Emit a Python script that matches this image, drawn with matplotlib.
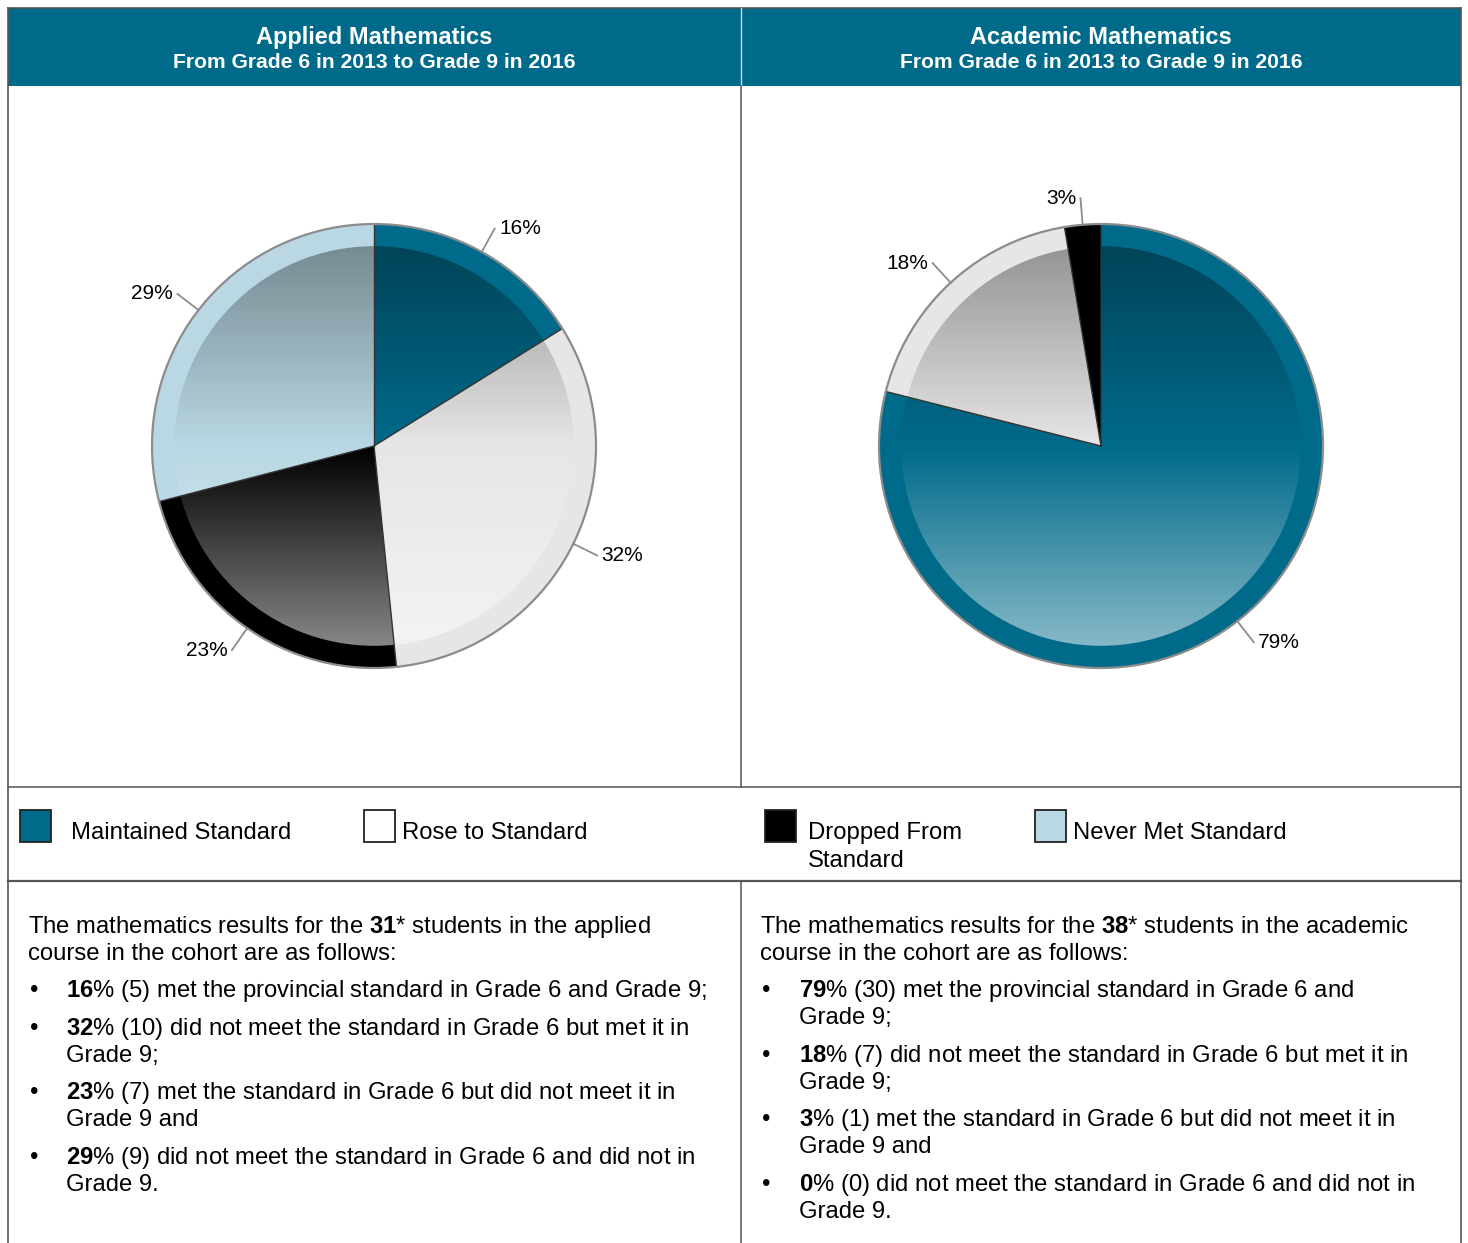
import numpy as np
import matplotlib
matplotlib.use('Agg')
import matplotlib.pyplot as plt
from matplotlib.patches import Rectangle, Circle

plt.rcParams['font.family'] = 'Liberation Sans'
plt.rcParams['mathtext.fontset'] = 'custom'
plt.rcParams['mathtext.rm'] = 'Liberation Sans'
plt.rcParams['mathtext.bf'] = 'Liberation Sans:bold'

# data
categories = ['Maintained Standard', 'Rose to Standard', 'Dropped From\nStandard', 'Never Met Standard']
slice_colors = ['#006a8a', '#e6e6e6', '#000000', '#b9d8e3']
applied_counts = [5, 10, 7, 9]
academic_counts = [30, 7, 1, 0]
applied_total = 31
academic_total = 38
titles = ['Applied Mathematics', 'Academic Mathematics']
subtitle = 'From Grade 6 in 2013 to Grade 9 in 2016'
course_names = ['applied', 'academic']
applied_desc = [['met the provincial standard in Grade 6 and Grade 9;'],
                ['did not meet the standard in Grade 6 but met it in', 'Grade 9;'],
                ['met the standard in Grade 6 but did not meet it in', 'Grade 9 and'],
                ['did not meet the standard in Grade 6 and did not in', 'Grade 9.']]
academic_desc = [['met the provincial standard in Grade 6 and', 'Grade 9;'],
                 ['did not meet the standard in Grade 6 but met it in', 'Grade 9;'],
                 ['met the standard in Grade 6 but did not meet it in', 'Grade 9 and'],
                 ['did not meet the standard in Grade 6 and did not in', 'Grade 9.']]

W, H = 1468, 1243
teal = '#006a8a'
line_c = '#555555'
fig = plt.figure(figsize=(W / 100, H / 100), dpi=100, facecolor='white')

bg = fig.add_axes([0, 0, 1, 1])
bg.set_xlim(0, W)
bg.set_ylim(H, 0)
bg.axis('off')

# table frame
mid_x = 741
bg.add_patch(Rectangle((8, 8), mid_x - 8, 78, color=teal, lw=0))
bg.add_patch(Rectangle((mid_x, 8), 1461 - mid_x, 78, color=teal, lw=0))
bg.plot([8, 1461], [8, 8], color=line_c, lw=1.2)
bg.plot([8, 8], [8, H], color=line_c, lw=1.2)
bg.plot([1461, 1461], [8, H], color=line_c, lw=1.2)
bg.plot([mid_x, mid_x], [8, 86], color='#d0d8dc', lw=1)
bg.plot([mid_x, mid_x], [86, 787], color=line_c, lw=1.1)
bg.plot([mid_x, mid_x], [881, H], color=line_c, lw=1.1)
bg.plot([8, 1461], [787, 787], color=line_c, lw=1.1)
bg.plot([8, 1461], [881, 881], color=line_c, lw=1.6)

# headers
for cx, t in zip([374.5, 1101], titles):
    bg.text(cx, 37, t, color='white', fontsize=17, fontweight='bold', ha='center', va='center')
    bg.text(cx, 62, subtitle, color='white', fontsize=15.2, fontweight='bold', ha='center', va='center')

# pies
R = 222
span = 1.3


def draw_pie(cx, cy, counts, total):
    side = 2 * span * R
    ax = fig.add_axes([(cx - side / 2) / W, (H - cy - side / 2) / H, side / W, side / H])
    wedges, _ = ax.pie(counts, startangle=90, counterclock=False, colors=slice_colors,
                       radius=1, wedgeprops=dict(linewidth=0))
    # vertical shading over inner part of the pie
    n = 256
    t = np.linspace(1, -1, n)
    img = np.zeros((n, 2, 4))
    up = t > 0
    img[up, :, 3] = (0.36 * t[up])[:, None]
    img[~up, :, :3] = 1.0
    img[~up, :, 3] = (0.53 * -t[~up])[:, None]
    im = ax.imshow(img, extent=(-0.9, 0.9, -0.9, 0.9), interpolation='bilinear', zorder=3)
    im.set_clip_path(Circle((0, 0), 0.9, transform=ax.transData))
    # slice borders
    for w, c in zip(wedges, counts):
        if c == 0:
            continue
        a = np.deg2rad(w.theta1)
        ax.plot([0, np.cos(a)], [0, np.sin(a)], color='#333333', lw=1, zorder=4)
    ax.add_patch(Circle((0, 0), 1, fill=False, ec='#8c8c8c', lw=1.6, zorder=5))
    # labels with leader lines
    for w, c in zip(wedges, counts):
        if c == 0:
            continue
        a = np.deg2rad((w.theta1 + w.theta2) / 2)
        ca, sa = np.cos(a), np.sin(a)
        ax.plot([ca, 1.12 * ca], [sa, 1.12 * sa], color='#8c8c8c', lw=1.3, zorder=5)
        off = 0.02 if ca >= 0 else -0.02
        ax.text(1.12 * ca + off, 1.12 * sa, f'{round(100 * c / total)}%', fontsize=15,
                ha='left' if ca >= 0 else 'right', va='center')
    ax.set_xlim(-span, span)
    ax.set_ylim(-span, span)
    ax.set_aspect('equal')
    ax.axis('off')


draw_pie(374, 446, applied_counts, applied_total)
draw_pie(1101, 446, academic_counts, academic_total)

fs = 17.2

# legend row
box_x = [20, 364, 765, 1035]
text_x = [71, 402, 808, 1073]
for bx, tx, lab, col in zip(box_x, text_x, categories, slice_colors):
    fc = 'white' if col == '#e6e6e6' else col
    bg.add_patch(Rectangle((bx, 810), 31, 32, fc=fc, ec='#222222', lw=1.3))
    for k, part in enumerate(lab.split('\n')):
        bg.text(tx, 838.5 + 28 * k, part, fontsize=fs, ha='left', va='baseline')

# text panels
line_h = 27
para_gap = 10.6


def draw_notes(x0, bullet_x, text_x0, counts, total, course, desc):
    y = 932.5
    bg.text(x0, y, f'The mathematics results for the $\\mathbf{{{total}}}$* students in the {course}',
            fontsize=fs, va='baseline')
    y += line_h
    bg.text(x0, y, 'course in the cohort are as follows:', fontsize=fs, va='baseline')
    for c, lines in zip(counts, desc):
        y += line_h + para_gap
        pct = round(100 * c / total)
        bg.text(bullet_x, y, '\u2022', fontsize=fs, ha='center', va='baseline')
        bg.text(text_x0, y, f'$\\mathbf{{{pct}}}$% ({c}) {lines[0]}', fontsize=fs, va='baseline')
        for extra in lines[1:]:
            y += line_h
            bg.text(text_x0, y, extra, fontsize=fs, va='baseline')


draw_notes(28, 34, 66, applied_counts, applied_total, course_names[0], applied_desc)
draw_notes(760, 766, 799, academic_counts, academic_total, course_names[1], academic_desc)

fig.savefig('out.png', dpi=100, facecolor='white')
